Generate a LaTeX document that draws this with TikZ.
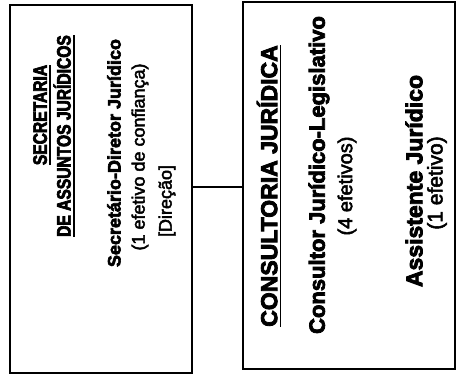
\documentclass[tikz,border=0pt]{standalone}
\usepackage{fontspec}
\setmainfont{Liberation Sans}[UprightFeatures={FakeBold=2.5}, BoldFeatures={FakeBold=3.5}]
\newfontfamily\narrowfont{Liberation Sans}[FakeStretch=0.8, BoldFeatures={FakeBold=3.5}]
\usetikzlibrary{positioning}

\newcommand{\thickul}[1]{\vtop{\hbox{#1}\kern2.2pt\hrule height 1.6pt}}

\begin{document}
\begin{tikzpicture}[
  x=1pt, y=-1pt,
  unitbox/.style={draw, line width=1.8pt, inner sep=0pt},
  bigtitle/.style={rotate=90, inner sep=0pt, font=\narrowfont\bfseries\fontsize{19.5}{22}\selectfont},
  bigrole/.style={rotate=90, inner sep=0pt, font=\bfseries\fontsize{18}{21}\selectfont},
  bignote/.style={rotate=90, inner sep=0pt, font=\fontsize{18}{21}\selectfont},
  smalltitle/.style={rotate=90, inner sep=0pt, font=\bfseries\fontsize{23}{27}\selectfont},
  smallrole/.style={rotate=90, inner sep=0pt, font=\bfseries\fontsize{22}{26}\selectfont},
  smallnote/.style={rotate=90, inner sep=0pt, font=\fontsize{20}{24}\selectfont},
  link/.style={line width=1.2pt}
]
\useasboundingbox (0,0) rectangle (456,376);

% Boxes
\node[unitbox, minimum width=182, minimum height=368] (secretaria) at (101,189) {};
\node[unitbox, minimum width=212, minimum height=367] (consultoria) at (349,185.5) {};

% Secretaria
\node[bigtitle] (sec_title_1) at (42,115) {\thickul{SECRETARIA}};
\node[bigtitle] (sec_title_2) at (64,136) {\thickul{DE ASSUNTOS JURÍDICOS}};
\node[bigrole] (sec_role) at (114,153) {Secretário-Diretor Jurídico};
\node[bignote] (sec_note_1) at (140,157) {(1 efetivo de confiança)};
\node[bignote] (sec_note_2) at (167,201) {[Direção]};

% Consultoria
\node[smalltitle] (con_title) at (269,186) {\thickul{CONSULTORIA JURÍDICA}};
\node[smallrole] (con_role_1) at (319,175) {Consultor Jurídico-Legislativo};
\node[smallnote] (con_note_1) at (347,186) {(4 efetivos)};
\node[smallrole, font=\bfseries\fontsize{23}{27}\selectfont] (con_role_2) at (414,181) {Assistente Jurídico};
\node[smallnote, font=\fontsize{21}{25}\selectfont] (con_note_2) at (437,183) {(1 efetivo)};

% Link
\draw[link] (secretaria.east |- 0,187) -- (consultoria.west |- 0,187);

\end{tikzpicture}
\end{document}
